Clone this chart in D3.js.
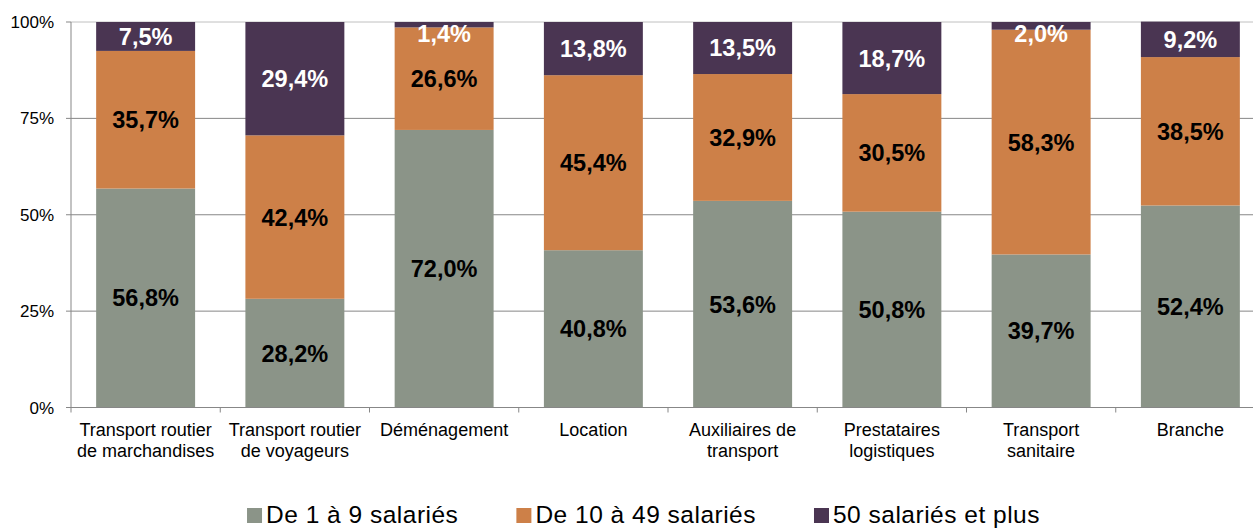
<!DOCTYPE html>
<html>
<head>
<meta charset="utf-8">
<script src="https://cdn.jsdelivr.net/npm/d3@7"></script>
<style>
  body { margin: 0; background: #fff; }
  svg { display: block; font-family: "Liberation Sans", Arial, sans-serif; }
</style>
</head>
<body>
<div id="chart"></div>
<script>
// Catégories (deux lignes pour les libellés)
const categories = [
    ["Transport routier", "de marchandises"],
    ["Transport routier", "de voyageurs"],
    ["Déménagement"],
    ["Location"],
    ["Auxiliaires de", "transport"],
    ["Prestataires", "logistiques"],
    ["Transport", "sanitaire"],
    ["Branche"]
];
const seriesNames = ["De 1 à 9 salariés", "De 10 à 49 salariés", "50 salariés et plus"];
const small = [56.8, 28.2, 72.0, 40.8, 53.6, 50.8, 39.7, 52.4];
const medium = [35.7, 42.4, 26.6, 45.4, 32.9, 30.5, 58.3, 38.5];
const large = [7.5, 29.4, 1.4, 13.8, 13.5, 18.7, 2.0, 9.2];
const yTicks = [0, 25, 50, 75, 100];

const colors = ["#8b9488", "#cd8048", "#4a3552"];
const labelColors = ["#000", "#000", "#fff"];

const width = 1253, height = 529;
const x0 = 71, x1 = 1265, yTop = 22, yBottom = 407.5;

const svg = d3.select("#chart").append("svg")
    .attr("width", width)
    .attr("height", height);

const x = d3.scaleBand()
    .domain(d3.range(categories.length))
    .range([x0, x1])
    .paddingInner(0.337)
    .paddingOuter(0.337 / 2);

const y = d3.scaleLinear().domain([0, 100]).range([yBottom, yTop]);

// Grille
svg.append("g").selectAll("line")
    .data(yTicks.filter(t => t > 0))
    .enter().append("line")
    .attr("x1", x0).attr("x2", width)
    .attr("y1", d => y(d)).attr("y2", d => y(d))
    .attr("stroke", d => d === 100 ? "#c0c0c0" : "#878787")
    .attr("stroke-width", 1);

// Empilement
const rows = categories.map((c, i) => ({ i: i, a: small[i], b: medium[i], c: large[i] }));
const stack = d3.stack().keys(["a", "b", "c"]);
const layers = stack(rows);

layers.forEach((layer, k) => {
    const g = svg.append("g");
    g.selectAll("rect")
        .data(layer)
        .enter().append("rect")
        .attr("x", d => x(d.data.i))
        .attr("width", x.bandwidth())
        .attr("y", d => y(d[1]))
        .attr("height", d => y(d[0]) - y(d[1]))
        .attr("fill", colors[k]);
});

// Étiquettes de valeurs
layers.forEach((layer, k) => {
    svg.append("g").selectAll("text")
        .data(layer)
        .enter().append("text")
        .attr("x", d => x(d.data.i) + x.bandwidth() / 2)
        .attr("y", d => Math.max((y(d[0]) + y(d[1])) / 2, yTop + 12))
        .attr("dy", "0.36em")
        .attr("text-anchor", "middle")
        .attr("font-size", "23.5px")
        .attr("font-weight", "bold")
        .attr("fill", labelColors[k])
        .text(d => (d[1] - d[0]).toFixed(1).replace(".", ",") + "%");
});

// Axe Y
const yAxis = svg.append("g");
yAxis.append("line")
    .attr("x1", x0).attr("x2", x0)
    .attr("y1", yTop).attr("y2", yBottom)
    .attr("stroke", "#878787");
yAxis.selectAll(".tick")
    .data(yTicks)
    .enter().append("line")
    .attr("x1", x0 - 5).attr("x2", x0)
    .attr("y1", d => y(d)).attr("y2", d => y(d))
    .attr("stroke", "#878787");
yAxis.selectAll("text")
    .data(yTicks)
    .enter().append("text")
    .attr("x", 54)
    .attr("y", d => y(d))
    .attr("dy", "0.36em")
    .attr("text-anchor", "end")
    .attr("font-size", "17px")
    .attr("fill", "#000")
    .text(d => d + "%");

// Axe X
const xAxis = svg.append("g");
xAxis.append("line")
    .attr("x1", x0).attr("x2", width)
    .attr("y1", yBottom).attr("y2", yBottom)
    .attr("stroke", "#878787");
xAxis.selectAll(".tick")
    .data(d3.range(categories.length + 1))
    .enter().append("line")
    .attr("x1", d => x0 + d * x.step()).attr("x2", d => x0 + d * x.step())
    .attr("y1", yBottom).attr("y2", yBottom + 5)
    .attr("stroke", "#878787");
const xl = xAxis.selectAll(".lbl")
    .data(categories)
    .enter().append("text")
    .attr("text-anchor", "middle")
    .attr("font-size", "18px")
    .attr("fill", "#000");
xl.selectAll("tspan")
    .data((d, i) => d.map(s => ({ s: s, i: i })))
    .enter().append("tspan")
    .attr("x", d => x(d.i) + x.bandwidth() / 2)
    .attr("y", (d, j) => 436 + j * 21)
    .text(d => d.s);

// Légende
const legend = svg.append("g");
const items = legend.selectAll("g")
    .data(seriesNames)
    .enter().append("g");
items.append("rect")
    .attr("width", 15).attr("height", 15)
    .attr("y", 508)
    .attr("fill", (d, i) => colors[i]);
items.append("text")
    .attr("x", 19)
    .attr("y", 523)
    .attr("font-size", "24.5px")
    .attr("letter-spacing", "0.5px")
    .attr("fill", "#000")
    .text(d => d);

let pos = 0;
const offsets = [];
items.each(function () {
    const w = 19 + this.querySelector("text").getComputedTextLength();
    offsets.push(pos);
    pos += w + 58;
});
const totalW = pos - 58;
const start = 643.5 - totalW / 2;
items.attr("transform", (d, i) => `translate(${start + offsets[i]},0)`);
</script>
</body>
</html>
